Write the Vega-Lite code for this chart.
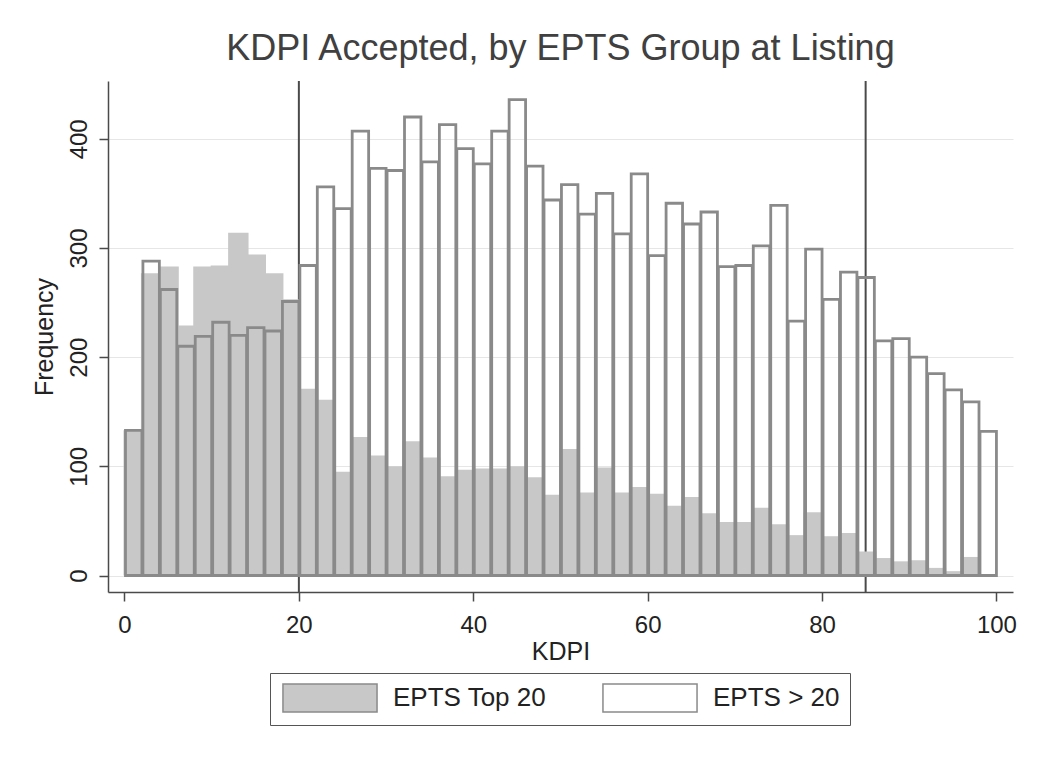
{
  "$schema": "https://vega.github.io/schema/vega-lite/v6.json",
  "width": 905,
  "height": 511,
  "autosize": {"type": "none"},
  "padding": {"left": 108, "top": 81, "right": 37, "bottom": 166},
  "background": "white",
  "config": {
    "font": "Liberation Sans",
    "view": {"stroke": null},
    "axis": {
      "domainColor": "#4a4a4a",
      "domainWidth": 1.5,
      "tickColor": "#4a4a4a",
      "tickWidth": 1.5,
      "tickSize": 9,
      "labelFont": "Liberation Sans",
      "labelFontSize": 24,
      "labelColor": "#222222",
      "titleFont": "Liberation Sans",
      "titleFontSize": 25,
      "titleFontWeight": "normal",
      "titleColor": "#222222",
      "gridColor": "#e6e6e6",
      "gridWidth": 1
    }
  },
  "title": {
    "text": "KDPI Accepted, by EPTS Group at Listing",
    "font": "Liberation Sans",
    "fontSize": 36,
    "fontWeight": "normal",
    "color": "#404040",
    "anchor": "middle",
    "baseline": "alphabetic",
    "offset": -16
  },
  "datasets": {
    "lines": [{"kdpi": 20}, {"kdpi": 85}],
    "bins": [
      {"lo": 0, "hi": 2, "group": "EPTS Top 20", "freq": 133},
      {"lo": 2, "hi": 4, "group": "EPTS Top 20", "freq": 277},
      {"lo": 4, "hi": 6, "group": "EPTS Top 20", "freq": 283},
      {"lo": 6, "hi": 8, "group": "EPTS Top 20", "freq": 229},
      {"lo": 8, "hi": 10, "group": "EPTS Top 20", "freq": 283},
      {"lo": 10, "hi": 12, "group": "EPTS Top 20", "freq": 284},
      {"lo": 12, "hi": 14, "group": "EPTS Top 20", "freq": 314},
      {"lo": 14, "hi": 16, "group": "EPTS Top 20", "freq": 294},
      {"lo": 16, "hi": 18, "group": "EPTS Top 20", "freq": 277},
      {"lo": 18, "hi": 20, "group": "EPTS Top 20", "freq": 253},
      {"lo": 20, "hi": 22, "group": "EPTS Top 20", "freq": 171},
      {"lo": 22, "hi": 24, "group": "EPTS Top 20", "freq": 161},
      {"lo": 24, "hi": 26, "group": "EPTS Top 20", "freq": 95},
      {"lo": 26, "hi": 28, "group": "EPTS Top 20", "freq": 127},
      {"lo": 28, "hi": 30, "group": "EPTS Top 20", "freq": 110},
      {"lo": 30, "hi": 32, "group": "EPTS Top 20", "freq": 100},
      {"lo": 32, "hi": 34, "group": "EPTS Top 20", "freq": 123},
      {"lo": 34, "hi": 36, "group": "EPTS Top 20", "freq": 108},
      {"lo": 36, "hi": 38, "group": "EPTS Top 20", "freq": 91},
      {"lo": 38, "hi": 40, "group": "EPTS Top 20", "freq": 97},
      {"lo": 40, "hi": 42, "group": "EPTS Top 20", "freq": 98},
      {"lo": 42, "hi": 44, "group": "EPTS Top 20", "freq": 98},
      {"lo": 44, "hi": 46, "group": "EPTS Top 20", "freq": 100},
      {"lo": 46, "hi": 48, "group": "EPTS Top 20", "freq": 90},
      {"lo": 48, "hi": 50, "group": "EPTS Top 20", "freq": 74},
      {"lo": 50, "hi": 52, "group": "EPTS Top 20", "freq": 116},
      {"lo": 52, "hi": 54, "group": "EPTS Top 20", "freq": 76},
      {"lo": 54, "hi": 56, "group": "EPTS Top 20", "freq": 99},
      {"lo": 56, "hi": 58, "group": "EPTS Top 20", "freq": 76},
      {"lo": 58, "hi": 60, "group": "EPTS Top 20", "freq": 81},
      {"lo": 60, "hi": 62, "group": "EPTS Top 20", "freq": 75},
      {"lo": 62, "hi": 64, "group": "EPTS Top 20", "freq": 64},
      {"lo": 64, "hi": 66, "group": "EPTS Top 20", "freq": 72},
      {"lo": 66, "hi": 68, "group": "EPTS Top 20", "freq": 57},
      {"lo": 68, "hi": 70, "group": "EPTS Top 20", "freq": 49},
      {"lo": 70, "hi": 72, "group": "EPTS Top 20", "freq": 49},
      {"lo": 72, "hi": 74, "group": "EPTS Top 20", "freq": 62},
      {"lo": 74, "hi": 76, "group": "EPTS Top 20", "freq": 47},
      {"lo": 76, "hi": 78, "group": "EPTS Top 20", "freq": 37},
      {"lo": 78, "hi": 80, "group": "EPTS Top 20", "freq": 58},
      {"lo": 80, "hi": 82, "group": "EPTS Top 20", "freq": 36},
      {"lo": 82, "hi": 84, "group": "EPTS Top 20", "freq": 39},
      {"lo": 84, "hi": 86, "group": "EPTS Top 20", "freq": 22},
      {"lo": 86, "hi": 88, "group": "EPTS Top 20", "freq": 16},
      {"lo": 88, "hi": 90, "group": "EPTS Top 20", "freq": 13},
      {"lo": 90, "hi": 92, "group": "EPTS Top 20", "freq": 14},
      {"lo": 92, "hi": 94, "group": "EPTS Top 20", "freq": 7},
      {"lo": 94, "hi": 96, "group": "EPTS Top 20", "freq": 4},
      {"lo": 96, "hi": 98, "group": "EPTS Top 20", "freq": 17},
      {"lo": 98, "hi": 100, "group": "EPTS Top 20", "freq": 0},
      {"lo": 0, "hi": 2, "group": "EPTS > 20", "freq": 133},
      {"lo": 2, "hi": 4, "group": "EPTS > 20", "freq": 288},
      {"lo": 4, "hi": 6, "group": "EPTS > 20", "freq": 262},
      {"lo": 6, "hi": 8, "group": "EPTS > 20", "freq": 210},
      {"lo": 8, "hi": 10, "group": "EPTS > 20", "freq": 219},
      {"lo": 10, "hi": 12, "group": "EPTS > 20", "freq": 232},
      {"lo": 12, "hi": 14, "group": "EPTS > 20", "freq": 220},
      {"lo": 14, "hi": 16, "group": "EPTS > 20", "freq": 227},
      {"lo": 16, "hi": 18, "group": "EPTS > 20", "freq": 224},
      {"lo": 18, "hi": 20, "group": "EPTS > 20", "freq": 251},
      {"lo": 20, "hi": 22, "group": "EPTS > 20", "freq": 284},
      {"lo": 22, "hi": 24, "group": "EPTS > 20", "freq": 356},
      {"lo": 24, "hi": 26, "group": "EPTS > 20", "freq": 336},
      {"lo": 26, "hi": 28, "group": "EPTS > 20", "freq": 407},
      {"lo": 28, "hi": 30, "group": "EPTS > 20", "freq": 373},
      {"lo": 30, "hi": 32, "group": "EPTS > 20", "freq": 371},
      {"lo": 32, "hi": 34, "group": "EPTS > 20", "freq": 420},
      {"lo": 34, "hi": 36, "group": "EPTS > 20", "freq": 379},
      {"lo": 36, "hi": 38, "group": "EPTS > 20", "freq": 413},
      {"lo": 38, "hi": 40, "group": "EPTS > 20", "freq": 391},
      {"lo": 40, "hi": 42, "group": "EPTS > 20", "freq": 377},
      {"lo": 42, "hi": 44, "group": "EPTS > 20", "freq": 407},
      {"lo": 44, "hi": 46, "group": "EPTS > 20", "freq": 436},
      {"lo": 46, "hi": 48, "group": "EPTS > 20", "freq": 375},
      {"lo": 48, "hi": 50, "group": "EPTS > 20", "freq": 344},
      {"lo": 50, "hi": 52, "group": "EPTS > 20", "freq": 358},
      {"lo": 52, "hi": 54, "group": "EPTS > 20", "freq": 331},
      {"lo": 54, "hi": 56, "group": "EPTS > 20", "freq": 350},
      {"lo": 56, "hi": 58, "group": "EPTS > 20", "freq": 313},
      {"lo": 58, "hi": 60, "group": "EPTS > 20", "freq": 368},
      {"lo": 60, "hi": 62, "group": "EPTS > 20", "freq": 293},
      {"lo": 62, "hi": 64, "group": "EPTS > 20", "freq": 341},
      {"lo": 64, "hi": 66, "group": "EPTS > 20", "freq": 322},
      {"lo": 66, "hi": 68, "group": "EPTS > 20", "freq": 333},
      {"lo": 68, "hi": 70, "group": "EPTS > 20", "freq": 283},
      {"lo": 70, "hi": 72, "group": "EPTS > 20", "freq": 284},
      {"lo": 72, "hi": 74, "group": "EPTS > 20", "freq": 302},
      {"lo": 74, "hi": 76, "group": "EPTS > 20", "freq": 339},
      {"lo": 76, "hi": 78, "group": "EPTS > 20", "freq": 233},
      {"lo": 78, "hi": 80, "group": "EPTS > 20", "freq": 299},
      {"lo": 80, "hi": 82, "group": "EPTS > 20", "freq": 253},
      {"lo": 82, "hi": 84, "group": "EPTS > 20", "freq": 278},
      {"lo": 84, "hi": 86, "group": "EPTS > 20", "freq": 273},
      {"lo": 86, "hi": 88, "group": "EPTS > 20", "freq": 215},
      {"lo": 88, "hi": 90, "group": "EPTS > 20", "freq": 217},
      {"lo": 90, "hi": 92, "group": "EPTS > 20", "freq": 200},
      {"lo": 92, "hi": 94, "group": "EPTS > 20", "freq": 185},
      {"lo": 94, "hi": 96, "group": "EPTS > 20", "freq": 170},
      {"lo": 96, "hi": 98, "group": "EPTS > 20", "freq": 159},
      {"lo": 98, "hi": 100, "group": "EPTS > 20", "freq": 132}
    ]
  },
  "layer": [
    {
      "data": {"name": "lines"},
      "mark": {"type": "rule", "color": "#4a4a4a", "strokeWidth": 2},
      "encoding": {
        "x": {
          "field": "kdpi",
          "type": "quantitative",
          "scale": {"domain": [-1.89, 101.9], "nice": false, "zero": false},
          "axis": {
            "title": "KDPI",
            "values": [0, 20, 40, 60, 80, 100],
            "grid": false,
            "labelPadding": 12,
            "titlePadding": 2
          }
        }
      }
    },
    {
      "data": {"name": "bins"},
      "transform": [{"filter": "datum.group === 'EPTS Top 20'"}],
      "mark": {"type": "bar", "xOffset": 2, "x2Offset": -2, "strokeWidth": 0},
      "encoding": {
        "x": {"field": "lo", "type": "quantitative", "bin": "binned"},
        "x2": {"field": "hi"},
        "y": {
          "field": "freq",
          "type": "quantitative",
          "scale": {"domain": [-15.1, 453], "nice": false, "zero": false},
          "axis": {
            "title": "Frequency",
            "values": [0, 100, 200, 300, 400],
            "grid": true,
            "labelAngle": -90,
            "labelPadding": 8,
            "titlePadding": 10
          }
        },
        "y2": {"datum": 0},
        "fill": {
          "field": "group",
          "type": "nominal",
          "scale": {"domain": ["EPTS Top 20", "EPTS > 20"], "range": ["#c8c8c8", "#ffffff"]},
          "legend": {
            "title": null,
            "orient": "none",
            "legendX": 162,
            "legendY": 592,
            "direction": "horizontal",
            "symbolType": "M-3.36,-1H3.36V1H-3.36Z",
            "symbolSize": 784,
            "symbolOffset": 35,
            "labelFont": "Liberation Sans",
            "labelFontSize": 26,
            "labelColor": "#222222",
            "labelLimit": 400,
            "labelOffset": 48,
            "columnPadding": 52,
            "padding": 10,
            "strokeColor": "#555555",
            "fillColor": "#ffffff",
            "encoding": {
              "symbols": {
                "update": {
                  "fillOpacity": {"value": 1},
                  "opacity": {"value": 1},
                  "strokeWidth": {"value": 2},
                  "stroke": {"signal": "datum.value === 'EPTS > 20' ? '#8a8a8a' : '#c8c8c8'"}
                }
              }
            }
          }
        }
      }
    },
    {
      "data": {"name": "bins"},
      "transform": [{"filter": "datum.group === 'EPTS > 20'"}],
      "mark": {"type": "bar", "fillOpacity": 0, "stroke": "#8a8a8a", "strokeWidth": 2.8},
      "encoding": {
        "x": {"field": "lo", "type": "quantitative", "bin": "binned"},
        "x2": {"field": "hi"},
        "y": {"field": "freq", "type": "quantitative"},
        "y2": {"datum": 0},
        "fill": {"field": "group", "type": "nominal"}
      }
    }
  ]
}
